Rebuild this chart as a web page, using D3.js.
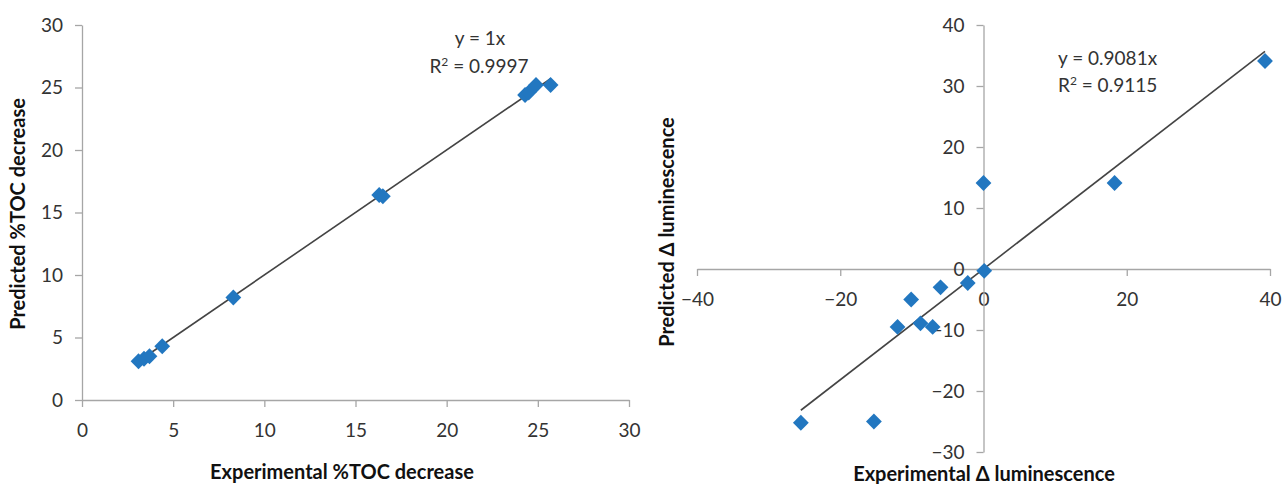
<!DOCTYPE html>
<html lang="en">
<head>
  <meta charset="UTF-8" />
  <title>Predicted vs experimental</title>
  <script src="https://d3js.org/d3.v7.min.js"></script>
  <style>
    body { margin: 0; background: #fff; }
    svg { display: block; font-family: Lato, "Open Sans", sans-serif; }
    .axis path, .axis line { stroke: #a6a6a6; stroke-width: 1.3px; }
    .axis text { font-size: 19px; fill: #333; font-family: Lato, "Open Sans", sans-serif; }
    .axis-title { font-size: 20px; font-weight: bold; fill: #111; }
    .eq { font-size: 19px; fill: #333; }
    .trend { stroke: #444; stroke-width: 1.6px; fill: none; }
    .pt { fill: #2277c0; }
  </style>
</head>
<body>
<svg id="chart" width="1282" height="484"></svg>
<script>
  // left panel: %TOC decrease
  const tocExp  = [3.1, 3.4, 3.7, 4.4, 8.3, 16.3, 16.5, 24.3, 24.5, 24.9, 25.7];
  const tocPred = [3.1, 3.3, 3.5, 4.3, 8.2, 16.4, 16.3, 24.4, 24.6, 25.2, 25.2];
  const tocSlope = 1;
  const tocTicks = [0, 5, 10, 15, 20, 25, 30];

  // right panel: delta luminescence
  const lumExp  = [39.3, 18.3, 0, 0.1, -2.2, -6.0, -10.1, -12.0, -8.8, -7.1, -15.3, -25.5];
  const lumPred = [34.1, 14.1, 14.1, -0.3, -2.3, -3.0, -5.0, -9.5, -8.9, -9.5, -25.0, -25.2];
  const lumSlope = 0.9081;
  const lumXTicks = [-40, -20, 0, 20, 40];
  const lumYTicks = [-30, -20, -10, 0, 10, 20, 30, 40];

  const svg = d3.select("#chart");
  const diamond = d3.symbol().type(d3.symbolSquare).size(125);

  function drawPoints(g, x, y, xs, ys) {
    g.selectAll("path.pt")
      .data(xs.map((v, i) => [v, ys[i]]))
      .join("path")
        .attr("class", "pt")
        .attr("d", diamond)
        .attr("transform", d => `translate(${x(d[0])},${y(d[1])}) rotate(45)`);
  }

  function drawTrend(g, x, y, xs, slope) {
    const ext = d3.extent(xs);
    g.append("path")
      .datum(ext.map(v => [v, v * slope]))
      .attr("class", "trend")
      .attr("d", d3.line().x(d => x(d[0])).y(d => y(d[1])));
  }

  // ---- left chart
  const xL = d3.scaleLinear().domain([0, 30]).range([82, 629]);
  const yL = d3.scaleLinear().domain([0, 30]).range([400, 25]);
  const gL = svg.append("g");

  gL.append("g").attr("class", "axis")
    .attr("transform", `translate(0,${yL(0)})`)
    .call(d3.axisBottom(xL).tickValues(tocTicks).tickSize(7).tickSizeOuter(0).tickPadding(17));
  gL.append("g").attr("class", "axis")
    .attr("transform", `translate(${xL(0)},0)`)
    .call(d3.axisLeft(yL).tickValues(tocTicks).tickSize(7).tickSizeOuter(0).tickPadding(12));

  drawTrend(gL, xL, yL, tocExp, tocSlope);
  drawPoints(gL, xL, yL, tocExp, tocPred);

  gL.append("text").attr("class", "eq").attr("x", 480).attr("y", 45)
    .attr("text-anchor", "middle").text("y = 1x");
  const r2L = gL.append("text").attr("class", "eq").attr("x", 479).attr("y", 73)
    .attr("text-anchor", "middle");
  r2L.append("tspan").text("R");
  r2L.append("tspan").attr("dy", -7).attr("font-size", 12).text("2");
  r2L.append("tspan").attr("dy", 7).text(" = 0.9997");

  gL.append("text").attr("class", "axis-title")
    .attr("x", 342).attr("y", 479).attr("text-anchor", "middle")
    .text("Experimental %TOC decrease");
  gL.append("text").attr("class", "axis-title")
    .attr("transform", "rotate(-90)")
    .attr("x", -214).attr("y", 25).attr("text-anchor", "middle")
    .text("Predicted %TOC decrease");

  // ---- right chart
  const xR = d3.scaleLinear().domain([-40, 40]).range([697, 1270]);
  const yR = d3.scaleLinear().domain([-30, 40]).range([452, 25]);
  const gR = svg.append("g");

  gR.append("g").attr("class", "axis")
    .attr("transform", `translate(0,${yR(0)})`)
    .call(d3.axisBottom(xR).tickValues(lumXTicks).tickSize(7).tickSizeOuter(0).tickPadding(17));
  gR.append("g").attr("class", "axis")
    .attr("transform", `translate(${xR(0)},0)`)
    .call(d3.axisLeft(yR).tickValues(lumYTicks).tickSize(7).tickSizeOuter(0).tickPadding(12));

  drawTrend(gR, xR, yR, lumExp, lumSlope);
  drawPoints(gR, xR, yR, lumExp, lumPred);

  gR.append("text").attr("class", "eq").attr("x", 1058).attr("y", 65).text("y = 0.9081x");
  const r2R = gR.append("text").attr("class", "eq").attr("x", 1058).attr("y", 92);
  r2R.append("tspan").text("R");
  r2R.append("tspan").attr("dy", -7).attr("font-size", 12).text("2");
  r2R.append("tspan").attr("dy", 7).text(" = 0.9115");

  gR.append("text").attr("class", "axis-title")
    .attr("x", 984).attr("y", 481).attr("text-anchor", "middle")
    .text("Experimental \u0394 luminescence");
  gR.append("text").attr("class", "axis-title")
    .attr("transform", "rotate(-90)")
    .attr("x", -232).attr("y", 674).attr("text-anchor", "middle")
    .text("Predicted \u0394 luminescence");
</script>
</body>
</html>
